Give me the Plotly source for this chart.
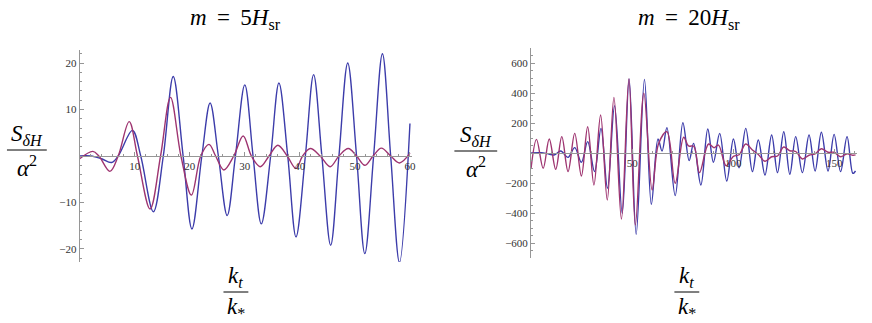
import plotly.graph_objects as go

W, H = 872, 323

# ---- data (m = 5 H_sr) ----
k5_blue = [0, 2, 4, 5.8, 7.0, 9.6, 11.1, 13.4, 15.2, 17.0, 18.8, 20.4, 22.2, 23.7, 25.2, 26.8,
           28.3, 30.0, 31.5, 33.0, 34.7, 36.2, 37.8, 39.3, 41.0, 42.5, 44.0, 45.6, 47.1, 48.7,
           50.3, 51.8, 53.4, 55.0, 56.5, 58.1, 60]
s5_blue = [0, 0.0, -0.6, -1.4, 0, 5.5, 0, -12.0, 0, 17.1, 0, -15.7, 0, 11.4, 0, -12.8,
           0, 15.3, 0, -14.6, 0, 15.7, 0, -17.4, 0, 17.5, 0, -19.2, 0, 20.0,
           0, -21.0, 0, 22.0, 0, -22.9, 7.0]

k5_purple = [0, 2.4, 3.5, 5.5, 7.0, 9.0, 10.5, 12.8, 14.7, 16.5, 18.4, 20.3, 22.0, 23.5, 24.7,
             26.2, 28.0, 29.7, 31.2, 32.8, 34.4, 36.0, 37.7, 39.3, 40.5, 41.9, 43.7, 45.5,
             47.1, 48.8, 50.3, 51.8, 53.3, 54.8, 56.5, 58.1, 60]
s5_purple = [-0.6, 1.0, 0, -3.3, 0, 7.4, 0, -11.4, 0, 12.6, 0, -8.4, 0, 2.5, 0,
             -3.0, 0, 4.3, 0, -2.3, 0, 2.3, 0, -2.7, 0, 1.6, 0, -2.3,
             0, 1.6, 0, -2.0, 0, 1.7, 0, -1.5, 0.6]

# ---- data (m = 20 H_sr) ----
k20_blue = [0, 5, 8, 11.4, 14.7, 18.3, 21.6, 24.9, 28.0, 31.4, 34.6, 37.8, 41.3, 45.1, 48.5,
            52.0, 56.1, 59.5, 62.8, 64.8, 67.2, 71.3, 75.1, 78.2, 80.4, 84.0, 87.4, 90.2,
            93.3, 96.8, 100.1, 102.9, 106.2, 109.5, 112.4, 115.7, 119.0, 121.9, 125.0,
            128.0, 130.9, 134.2, 137.5, 140.5, 143.6, 146.9, 149.9, 153.1, 156.3, 159.2, 160.5]
s20_blue = [0, 2, -4, -13, 13, -29, 36, -62, 76, -124, 164, -235, 316, -402, 493,
            -542, 491, -342, 93, 13, 169, -284, 202, -51, 64, -213, 160, -62,
            131, -187, 93, -98, 164, -124, 87, -147, 120, -131, 142,
            -142, 109, -131, 120, -120, 138, -120, 124, -124, 109, -136, -120]

k20_purple = [0, 2.7, 6.0, 9.0, 12.2, 15.2, 18.3, 21.6, 24.9, 28.0, 31.1, 34.4, 37.7, 41.0,
              44.7, 48.4, 51.6, 55.8, 59.9, 63.1, 67.2, 71.3, 75.5, 77.9, 80.5, 83.3, 87.8,
              90.5, 92.7, 96.5, 100.1, 102.9, 106.2, 109.5, 112.4, 115.7, 119.0, 121.9,
              125.0, 128.0, 130.9, 134.2, 137.5, 140.5, 143.6, 146.9, 149.9, 153.1, 156.3,
              159.2, 160.5]
s20_purple = [-102, 91, -102, 93, -109, 109, -124, 131, -153, 175, -213, 253, -313, 371,
              -440, 493, -480, 398, -247, 64, 142, -202, 105, 47, 45, -131, 60,
              35, 53, -84, -22, -12, 60, 20, -10, -55, -25, -20,
              40, 15, 10, -40, -15, -5, 28, 5, 5, -25, -5,
              -15, -12]

ticks5_x = [10, 20, 30, 40, 50, 60]
ticks5_y = [-20, -10, 10, 20]
ticks20_x = [50, 100, 150]
ticks20_y = [-600, -400, -200, 200, 400, 600]

BLUE = "rgb(60,60,170)"
PURPLE = "rgb(158,52,112)"
AXIS = "rgb(150,150,150)"
SERIF = "Liberation Serif"


def px(x):
    return x / W


def py(y):
    return 1 - y / H


fig = go.Figure()

for xs, ys, col, xa, ya in [
    (k5_blue, s5_blue, BLUE, "x", "y"),
    (k5_purple, s5_purple, PURPLE, "x", "y"),
    (k20_blue, s20_blue, BLUE, "x2", "y2"),
    (k20_purple, s20_purple, PURPLE, "x2", "y2"),
]:
    fig.add_trace(go.Scatter(x=xs, y=ys, mode="lines", xaxis=xa, yaxis=ya,
                             line=dict(color=col, width=1.4, shape="spline", smoothing=1.0),
                             showlegend=False, hoverinfo="skip"))

tickfont = dict(family=SERIF, size=11, color="#333")
common = dict(showgrid=False, zeroline=False, showline=True, linecolor=AXIS, linewidth=1,
              ticks="inside", ticklen=4, tickcolor=AXIS, tickfont=tickfont)

fig.update_layout(
    # left panel
    xaxis=dict(domain=[px(80), px(413.5)], range=[0, 60.3], anchor="free",
               position=(py(262) + py(50)) / 2, tickvals=ticks5_x,
               minor=dict(ticks="inside", ticklen=2, dtick=2, tickcolor=AXIS), **common),
    yaxis=dict(domain=[py(262), py(50)], range=[-22.8, 22.8], anchor="x", tickvals=ticks5_y,
               minor=dict(ticks="inside", ticklen=2, dtick=2, tickcolor=AXIS), **common),
    # right panel
    xaxis2=dict(domain=[px(533.5), px(860.5)], range=[0, 161], anchor="free",
                position=(py(258) + py(48)) / 2, tickvals=ticks20_x,
                minor=dict(ticks="inside", ticklen=2, dtick=10, tickcolor=AXIS), **common),
    yaxis2=dict(domain=[py(258), py(48)], range=[-700, 700], anchor="x2", tickvals=ticks20_y,
                minor=dict(ticks="inside", ticklen=2, dtick=50, tickcolor=AXIS), **common),
)

ann = []
shapes = []


def text(x, y, s, size, yanchor="middle"):
    ann.append(dict(x=px(x), y=py(y), xref="paper", yref="paper", text=s, showarrow=False,
                    xanchor="center", yanchor=yanchor, borderpad=0,
                    font=dict(family=SERIF, size=size, color="black")))


def frac(xc, ybar, num, den, width, size):
    # numerator sits on the bar, denominator hangs below it
    text(xc, ybar - 0.5, num, size, "bottom")
    text(xc, ybar + 0.5, den, size, "top")
    shapes.append(dict(type="line", xref="paper", yref="paper",
                       x0=px(xc - width / 2), x1=px(xc + width / 2), y0=py(ybar), y1=py(ybar),
                       line=dict(color="black", width=1)))


text(237, 19, "<i>m</i>\u2009 = \u20095<i>H</i><sub>sr</sub>", 23)
text(692, 19, "<i>m</i>\u2009 = \u200920<i>H</i><sub>sr</sub>", 23)

ylab_num = "<i>S</i><sub><i>δH</i></sub>"
ylab_den = "<i>α</i><sup>2</sup>"
xlab_num = "<i>k</i><sub><i>t</i></sub>"
xlab_den = "<i>k</i><sub>*</sub>"

frac(27, 150, ylab_num, ylab_den, 40, 23)
frac(478, 151, ylab_num, ylab_den, 43, 23)
frac(237, 292, xlab_num, xlab_den, 25, 23)
frac(690, 292, xlab_num, xlab_den, 25, 23)

fig.update_layout(annotations=ann, shapes=shapes, width=W, height=H,
                  margin=dict(l=0, r=0, t=0, b=0),
                  plot_bgcolor="white", paper_bgcolor="white")

# page body has a default 8px margin; remove it so the figure fills the window
fig.write_html("out.html", config={"displayModeBar": False},
               post_script="document.body.style.margin='0';")
